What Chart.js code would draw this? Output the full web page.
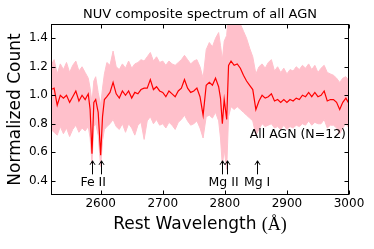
<!DOCTYPE html>
<html lang="en">
<head>
<meta charset="UTF-8" />
<title>NUV composite spectrum</title>
<script src="https://cdn.jsdelivr.net/npm/chart.js"></script>
<style>
  html, body { margin: 0; padding: 0; background: #fff; }
</style>
</head>
<body>
<canvas id="spec" width="374" height="249"></canvas>
<script>
  // rest wavelength (A), composite flux, and the upper / lower envelope
  const wave = [2520, 2525, 2530, 2535, 2540, 2545, 2550, 2555, 2560, 2565, 2570, 2575, 2580, 2583, 2586, 2589, 2592, 2596, 2600, 2603, 2606,
    2610, 2615, 2620, 2625, 2630, 2635, 2640, 2645, 2650, 2655, 2660, 2665, 2670, 2675, 2680, 2685, 2690, 2695, 2700,
    2705, 2710, 2715, 2720, 2725, 2730, 2735, 2740, 2745, 2750, 2755, 2760, 2765, 2770, 2775, 2780, 2785, 2790, 2793, 2796, 2799, 2803, 2806,
    2810, 2815, 2820, 2825, 2830, 2835, 2840, 2845, 2850, 2855, 2860, 2865, 2870, 2875, 2880, 2885, 2890, 2895, 2900,
    2905, 2910, 2915, 2920, 2925, 2930, 2935, 2940, 2945, 2950, 2955, 2960, 2965, 2970, 2975, 2980, 2985, 2990, 2995, 3000];
  const flux = [1.04, 1.05, 0.93, 1.00, 0.98, 1.00, 0.95, 0.99, 1.03, 0.96, 1.00, 0.97, 1.01, 0.90, 0.59, 0.95, 0.97, 0.88, 0.58, 0.85, 0.97,
    0.99, 1.02, 1.09, 1.01, 0.98, 1.03, 1.00, 1.03, 0.98, 1.02, 1.01, 1.04, 1.05, 1.05, 1.11, 1.04, 1.06, 1.03, 1.02,
    0.99, 1.03, 1.01, 0.99, 1.03, 1.05, 1.11, 1.05, 1.02, 1.03, 1.05, 0.99, 0.86, 1.07, 1.09, 1.07, 1.12, 1.06, 0.98, 0.80, 0.97, 0.83, 1.21,
    1.24, 1.21, 1.22, 1.19, 1.14, 1.10, 1.07, 1.04, 0.90, 0.96, 1.00, 0.98, 0.99, 1.01, 0.96, 0.97, 0.95, 0.97, 0.95,
    0.97, 0.96, 0.98, 0.97, 1.00, 0.99, 1.02, 0.99, 1.02, 0.99, 1.00, 1.03, 0.96, 0.97, 0.97, 0.95, 0.90, 0.95, 0.98, 0.94];
  const upper = [1.21, 1.25, 1.15, 1.22, 1.18, 1.23, 1.16, 1.21, 1.24, 1.17, 1.20, 1.16, 1.12, 1.05, 0.95, 1.10, 1.13, 1.02, 0.93, 1.05, 1.15,
    1.23, 1.21, 1.31, 1.20, 1.18, 1.22, 1.19, 1.24, 1.19, 1.22, 1.23, 1.25, 1.24, 1.27, 1.30, 1.24, 1.27, 1.23, 1.24,
    1.21, 1.24, 1.22, 1.21, 1.23, 1.25, 1.28, 1.25, 1.22, 1.24, 1.25, 1.20, 1.12, 1.32, 1.37, 1.34, 1.40, 1.44, 1.35, 1.25, 1.38, 1.42, 1.60,
    1.62, 1.58, 1.56, 1.50, 1.45, 1.40, 1.33, 1.27, 1.15, 1.20, 1.22, 1.19, 1.23, 1.25, 1.17, 1.20, 1.16, 1.19, 1.15,
    1.18, 1.17, 1.20, 1.18, 1.21, 1.19, 1.22, 1.18, 1.21, 1.16, 1.19, 1.21, 1.16, 1.15, 1.14, 1.12, 1.09, 1.12, 1.13, 1.10];
  const lower = [0.76, 0.74, 0.72, 0.78, 0.73, 0.77, 0.71, 0.76, 0.79, 0.74, 0.77, 0.75, 0.78, 0.70, 0.52, 0.78, 0.80, 0.72, 0.50, 0.68, 0.76,
    0.78, 0.80, 0.83, 0.78, 0.76, 0.80, 0.74, 0.80, 0.77, 0.72, 0.79, 0.81, 0.69, 0.82, 0.85, 0.80, 0.83, 0.79, 0.80,
    0.77, 0.81, 0.79, 0.76, 0.81, 0.83, 0.86, 0.82, 0.79, 0.80, 0.82, 0.77, 0.70, 0.85, 0.86, 0.84, 0.88, 0.82, 0.70, 0.50, 0.62, 0.48, 0.85,
    0.92, 0.90, 0.92, 0.90, 0.88, 0.86, 0.84, 0.82, 0.72, 0.76, 0.80, 0.78, 0.79, 0.80, 0.77, 0.78, 0.76, 0.79, 0.76,
    0.78, 0.77, 0.79, 0.78, 0.80, 0.79, 0.82, 0.79, 0.81, 0.80, 0.80, 0.83, 0.77, 0.79, 0.79, 0.77, 0.73, 0.77, 0.80, 0.77];

  const xTicks = [2600, 2700, 2800, 2900, 3000];
  const yTicks = [0.4, 0.6, 0.8, 1.0, 1.2, 1.4];

  // line markers: arrows at these wavelengths, labels underneath
  const arrowWave = [2586, 2600, 2796, 2803, 2852];
  const lineLabels = ["Fe II", "Mg II", "Mg I"];
  const lineLabelWave = [2588, 2798, 2852];
  const sampleLabel = "All AGN (N=12)";
  const titleText = "NUV composite spectrum of all AGN";
  const xTitle = ["Rest Wavelength ", "(Å)"];

  const FONT = "'DejaVu Sans', sans-serif";
  const SERIF = "'Liberation Serif', serif";

  const pts = (arr) => arr.map((v, i) => ({ x: wave[i], y: v }));

  // frame, inward ticks on all four sides, title, x label and the annotations
  const framePlugin = {
    id: "frame",
    afterDatasetsDraw(chart) {
      const { ctx, chartArea: a, scales } = chart;
      const xs = scales.x, ys = scales.y;
      const L = Math.round(a.left) + 0.5, R = Math.round(a.right) - 0.5;
      const T = Math.round(a.top) + 0.5, B = Math.round(a.bottom) - 0.5;
      const tl = 4;
      ctx.save();
      ctx.strokeStyle = "#000";
      ctx.lineWidth = 1;
      ctx.strokeRect(L, T, R - L, B - T);
      ctx.beginPath();
      xTicks.forEach((v) => {
        const px = Math.round(xs.getPixelForValue(v)) + 0.5;
        ctx.moveTo(px, B); ctx.lineTo(px, B - tl);
        ctx.moveTo(px, T); ctx.lineTo(px, T + tl);
      });
      yTicks.forEach((v) => {
        const py = Math.round(ys.getPixelForValue(v)) + 0.5;
        ctx.moveTo(L, py); ctx.lineTo(L + tl, py);
        ctx.moveTo(R, py); ctx.lineTo(R - tl, py);
      });
      ctx.stroke();

      // arrows "->" pointing up at the absorption lines
      ctx.beginPath();
      arrowWave.forEach((w) => {
        const px = Math.round(xs.getPixelForValue(w)) + 0.5;
        const tip = ys.getPixelForValue(0.54);
        const tail = ys.getPixelForValue(0.445);
        ctx.moveTo(px, tail); ctx.lineTo(px, tip);
        ctx.moveTo(px - 2.5, tip + 4); ctx.lineTo(px, tip); ctx.lineTo(px + 2.5, tip + 4);
      });
      ctx.stroke();

      ctx.fillStyle = "#000";
      ctx.font = "12.5px " + FONT;
      ctx.textBaseline = "middle";
      ctx.textAlign = "center";
      lineLabels.forEach((t, i) => {
        ctx.fillText(t, xs.getPixelForValue(lineLabelWave[i]), ys.getPixelForValue(0.385));
      });
      ctx.textAlign = "left";
      ctx.fillText(sampleLabel, xs.getPixelForValue(2840), ys.getPixelForValue(0.725));

      // title centred over the axes
      const cx = (a.left + a.right) / 2;
      ctx.textAlign = "center";
      ctx.font = "13px " + FONT;
      ctx.fillText(titleText, cx, 15);

      // x label: sans text followed by serif (Å)
      ctx.textAlign = "left";
      ctx.font = "17px " + FONT;
      const w1 = ctx.measureText(xTitle[0]).width;
      ctx.font = "18px " + SERIF;
      const w2 = ctx.measureText(xTitle[1]).width;
      const x0 = cx - (w1 + w2) / 2;
      ctx.font = "17px " + FONT;
      ctx.fillText(xTitle[0], x0, 225);
      ctx.font = "18px " + SERIF;
      ctx.fillText(xTitle[1], x0 + w1, 225);
      ctx.restore();
    }
  };

  new Chart(document.getElementById("spec"), {
    type: "line",
    data: {
      datasets: [
        {
          label: "composite",
          data: pts(flux),
          borderColor: "#ff0000",
          borderWidth: 1.2,
          pointRadius: 0,
          fill: false,
        },
        {
          label: "upper",
          data: pts(upper),
          borderColor: "#ffc0cb",
          backgroundColor: "#ffc0cb",
          borderWidth: 1,
          pointRadius: 0,
          fill: "+1",
        },
        {
          label: "lower",
          data: pts(lower),
          borderColor: "#ffc0cb",
          borderWidth: 1,
          pointRadius: 0,
          fill: false,
        },
      ],
    },
    options: {
      responsive: false,
      animation: false,
      devicePixelRatio: 1,
      layout: { padding: { left: 0, right: 25, top: 24, bottom: 0 } },
      plugins: {
        legend: { display: false },
        tooltip: { enabled: false },
        title: { display: false },
      },
      scales: {
        x: {
          type: "linear",
          min: 2520,
          max: 3000,
          afterBuildTicks: (s) => { s.ticks = xTicks.map((v) => ({ value: v })); },
          afterFit: (s) => { s.height = 54; },
          grid: { display: false, drawTicks: false },
          border: { display: false },
          ticks: {
            color: "#000",
            font: { family: FONT, size: 12 },
            padding: 2,
            maxRotation: 0,
            autoSkip: false,
            callback: (v) => String(v),
          },
          title: { display: false },
        },
        y: {
          min: 0.3,
          max: 1.5,
          afterBuildTicks: (s) => { s.ticks = yTicks.map((v) => ({ value: v })); },
          afterFit: (s) => { s.width = 51; },
          grid: { display: false, drawTicks: false },
          border: { display: false },
          ticks: {
            color: "#000",
            font: { family: FONT, size: 12 },
            padding: 3,
            autoSkip: false,
            callback: (v) => v.toFixed(1),
          },
          title: {
            display: true,
            text: "Normalized Count",
            color: "#000",
            font: { family: FONT, size: 17 },
            padding: { top: 5.4, bottom: 0 },
          },
        },
      },
    },
    plugins: [framePlugin],
  });
</script>
</body>
</html>
